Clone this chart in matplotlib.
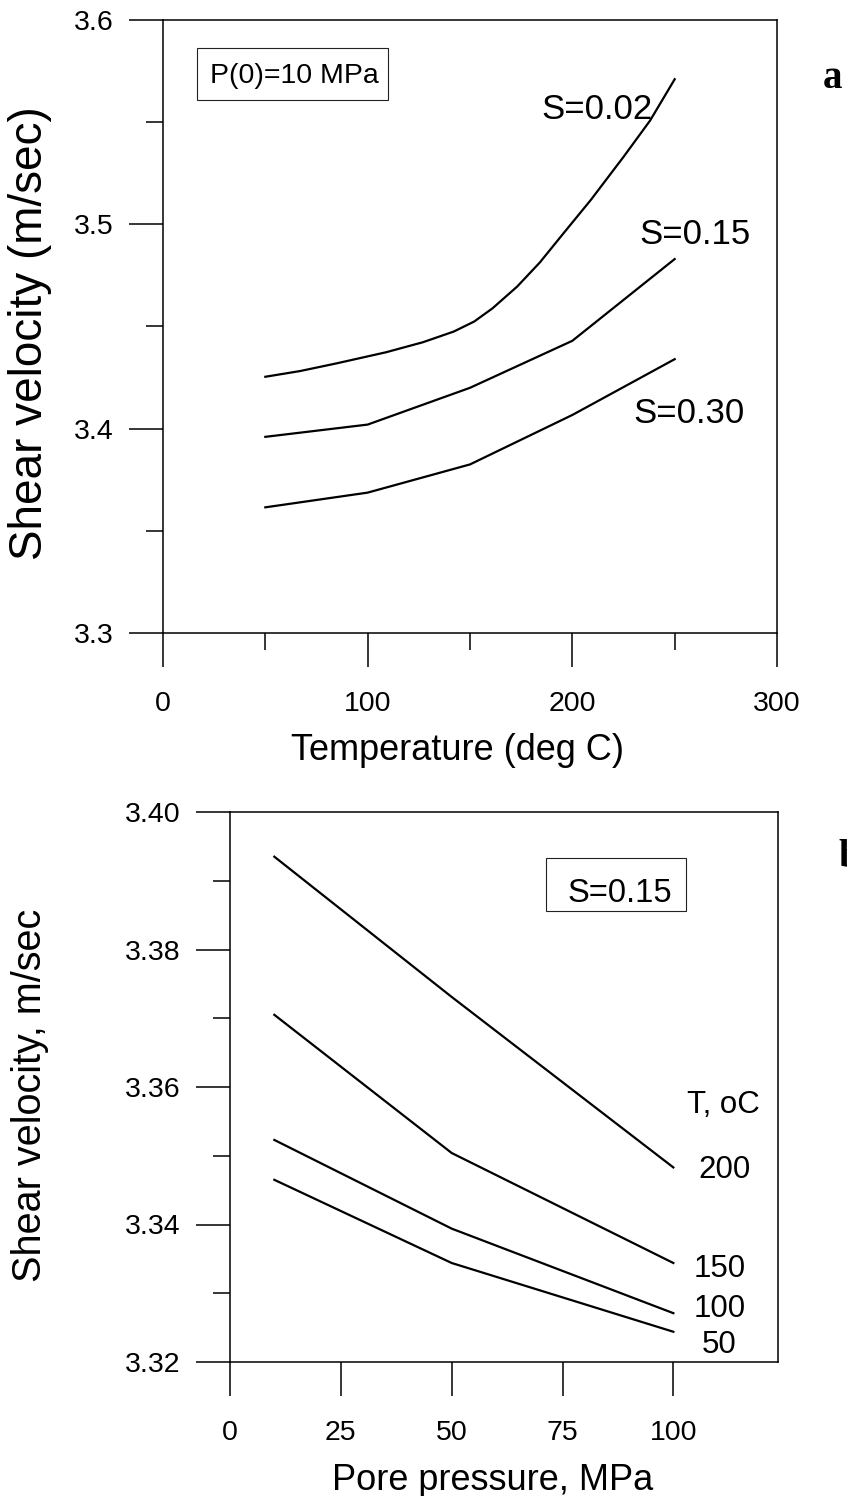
import matplotlib
matplotlib.use("Agg")
import matplotlib.pyplot as plt
from matplotlib.ticker import MultipleLocator, FormatStrFormatter
from matplotlib.patches import Rectangle

plt.rcParams['font.family'] = ['Liberation Sans', 'DejaVu Sans']

# Panel a: shear velocity vs temperature for three saturations
temp = [50, 100, 150, 200, 250]
temp_s002 = [50, 67, 85, 109, 127, 142, 152, 161, 173, 184, 196, 209, 225, 238, 250]
vs_s002 = [3.4254, 3.4282, 3.4320, 3.4374, 3.4423, 3.4475, 3.4524, 3.4589,
           3.4695, 3.4812, 3.4960, 3.5119, 3.5330, 3.5508, 3.571]
vs_s015 = [3.396, 3.402, 3.420, 3.443, 3.483]
vs_s030 = [3.3615, 3.3687, 3.3825, 3.4067, 3.434]
labels_a = ["S=0.02", "S=0.15", "S=0.30"]

# Panel b: shear velocity vs pore pressure for four temperatures
pore = [10, 50, 100]
vs_t200 = [3.3935, 3.3731, 3.3483]
vs_t150 = [3.3705, 3.3504, 3.3344]
vs_t100 = [3.3523, 3.3394, 3.3271]
vs_t050 = [3.3465, 3.3344, 3.3244]
labels_b = ["200", "150", "100", "50"]

W, H = 847, 1496
fig = plt.figure(figsize=(W / 100, H / 100), dpi=100)

LW = 1.6
TICK_FS = 20.5
LABEL_FS = 26


def style_axes(ax):
    for sp in ax.spines.values():
        sp.set_linewidth(1.1)
        sp.set_color('black')
    ax.tick_params(which='major', direction='out', length=24.5, width=1.1,
                   labelsize=TICK_FS, pad=11)
    ax.tick_params(which='minor', direction='out', length=12.5, width=1.1)
    ax.tick_params(axis='x', which='major', pad=17)


# ---------------- panel a ----------------
ax1 = fig.add_axes([163 / W, 1 - 633 / H, 614 / W, 613 / H])
ax1.plot(temp_s002, vs_s002, color='black', lw=LW)
ax1.plot(temp, vs_s015, color='black', lw=LW)
ax1.plot(temp, vs_s030, color='black', lw=LW)
ax1.set_xlim(0, 300)
ax1.set_ylim(3.3, 3.6)
ax1.xaxis.set_major_locator(MultipleLocator(100))
ax1.xaxis.set_minor_locator(MultipleLocator(50))
ax1.yaxis.set_major_locator(MultipleLocator(0.1))
ax1.yaxis.set_minor_locator(MultipleLocator(0.05))
ax1.yaxis.set_major_formatter(FormatStrFormatter('%.1f'))
style_axes(ax1)
ax1.set_xlabel("Temperature (deg C)", fontsize=LABEL_FS, va='top')
ax1.xaxis.set_label_coords(0.48, -0.163)
ax1.set_ylabel("Shear velocity (m/sec)", fontsize=33, va='center')
ax1.yaxis.set_label_coords(-0.2166, 0.49)

ax1.text(184.7, 3.5514, labels_a[0], fontsize=25, ha='left', va='baseline')
ax1.text(232.6, 3.4904, labels_a[1], fontsize=25, ha='left', va='baseline')
ax1.text(229.6, 3.4028, labels_a[2], fontsize=25, ha='left', va='baseline')

ax1.add_patch(Rectangle((0.0549, 0.8695), 0.312, 0.0853, transform=ax1.transAxes,
                        fill=False, edgecolor='#222222', lw=0.8))
ax1.text(0.0765, 0.8972, "P(0)=10 MPa", transform=ax1.transAxes, fontsize=20.5,
         ha='left', va='baseline')

# ---------------- panel b ----------------
ax2 = fig.add_axes([230 / W, 1 - 1362 / H, 548 / W, 550 / H])
for vals in (vs_t200, vs_t150, vs_t100, vs_t050):
    ax2.plot(pore, vals, color='black', lw=LW)
ax2.set_xlim(0, 123.6)
ax2.set_ylim(3.32, 3.40)
ax2.set_xticks([0, 25, 50, 75, 100])
ax2.yaxis.set_major_locator(MultipleLocator(0.02))
ax2.yaxis.set_minor_locator(MultipleLocator(0.01))
ax2.yaxis.set_major_formatter(FormatStrFormatter('%.2f'))
style_axes(ax2)
ax2.set_xlabel("Pore pressure, MPa", fontsize=LABEL_FS, va='top')
ax2.xaxis.set_label_coords(0.479, -0.183)
ax2.set_ylabel("Shear velocity, m/sec", fontsize=28.5, va='center')
ax2.yaxis.set_label_coords(-0.365, 0.4855)

ax2.text(103.0, 3.3562, "T, oC", fontsize=22.5, ha='left', va='baseline')
ax2.text(105.6, 3.3468, labels_b[0], fontsize=22.5, ha='left', va='baseline')
ax2.text(104.5, 3.3324, labels_b[1], fontsize=22.5, ha='left', va='baseline')
ax2.text(104.5, 3.3265, labels_b[2], fontsize=22.5, ha='left', va='baseline')
ax2.text(106.5, 3.3213, labels_b[3], fontsize=22.5, ha='left', va='baseline')

ax2.add_patch(Rectangle((0.5766, 0.82), 0.255, 0.0969, transform=ax2.transAxes,
                        fill=False, edgecolor='#222222', lw=0.8))
ax2.text(0.6162, 0.8369, "S=0.15", transform=ax2.transAxes, fontsize=23.5,
         ha='left', va='baseline')

# panel letters
fig.text(823 / W, 1 - 88 / H, "a", fontsize=28, fontweight='bold',
         family='Liberation Serif', ha='left', va='baseline')
fig.text(838 / W, 1 - 867 / H, "b", fontsize=28, fontweight='bold',
         family='Liberation Serif', ha='left', va='baseline')

fig.savefig("out.png", dpi=100, facecolor='white')
